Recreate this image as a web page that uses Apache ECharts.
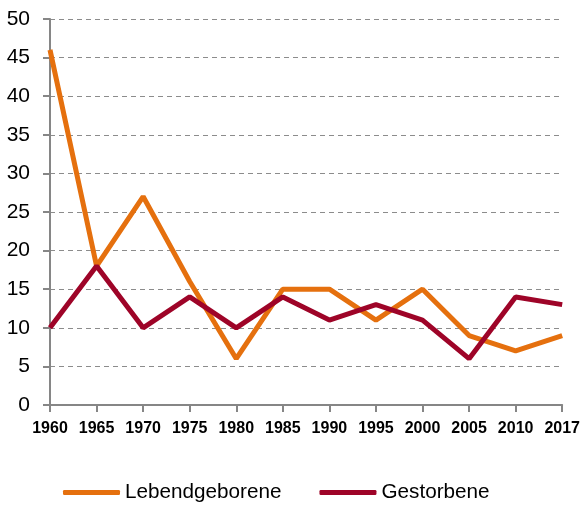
<!DOCTYPE html>
<html>
<head>
<meta charset="utf-8">
<script src="https://cdn.jsdelivr.net/npm/echarts@6/dist/echarts.min.js"></script>
<style>
  html, body { margin: 0; padding: 0; background: #fff; }
  #chart { width: 583px; height: 506px; }
</style>
</head>
<body>
<div id="chart"></div>
<script>
// jahre und werte
var years = ['1960', '1965', '1970', '1975', '1980', '1985', '1990', '1995', '2000', '2005', '2010', '2017'];
var lebendgeborene = [46, 18, 27, 16, 6, 15, 15, 11, 15, 9, 7, 9];
var gestorbene = [10, 18, 10, 14, 10, 14, 11, 13, 11, 6, 14, 13];
var seriesNames = ['Lebendgeborene', 'Gestorbene'];

var chart = echarts.init(document.getElementById('chart'));

chart.setOption({
    animation: false,
    color: ['#E5700E', '#9E0428'],
    grid: { left: 50, right: 20, top: 19, bottom: 101 },
    legend: {
        top: 477,
        left: 58,
        itemWidth: 57,
        itemHeight: 5,
        itemGap: 38,
        icon: 'roundRect',
        textStyle: { fontFamily: 'Liberation Sans', fontSize: 20.7, color: '#000' },
        data: seriesNames
    },
    xAxis: {
        type: 'category',
        boundaryGap: false,
        data: years,
        axisLine: { lineStyle: { color: '#868686', width: 2 } },
        axisTick: { show: true, length: 7, lineStyle: { color: '#868686', width: 2 } },
        axisLabel: {
            interval: 0,
            margin: 16,
            color: '#000',
            fontFamily: 'Liberation Sans',
            fontWeight: 'bold',
            fontSize: 16
        }
    },
    yAxis: {
        type: 'value',
        min: 0,
        max: 50,
        interval: 5,
        axisLine: { show: true, lineStyle: { color: '#868686', width: 2 } },
        axisTick: { show: true, length: 7, lineStyle: { color: '#868686', width: 2 } },
        axisLabel: {
            margin: 20,
            color: '#000',
            fontFamily: 'Liberation Sans',
            fontSize: 21
        },
        splitLine: { lineStyle: { color: '#8c8c8c', type: [5, 4], width: 1 } }
    },
    series: [
        {
            name: seriesNames[0],
            type: 'line',
            data: lebendgeborene,
            showSymbol: false,
            symbol: 'none',
            lineStyle: { width: 5 }
        },
        {
            name: seriesNames[1],
            type: 'line',
            data: gestorbene,
            showSymbol: false,
            symbol: 'none',
            lineStyle: { width: 5 }
        }
    ]
});
</script>
</body>
</html>
